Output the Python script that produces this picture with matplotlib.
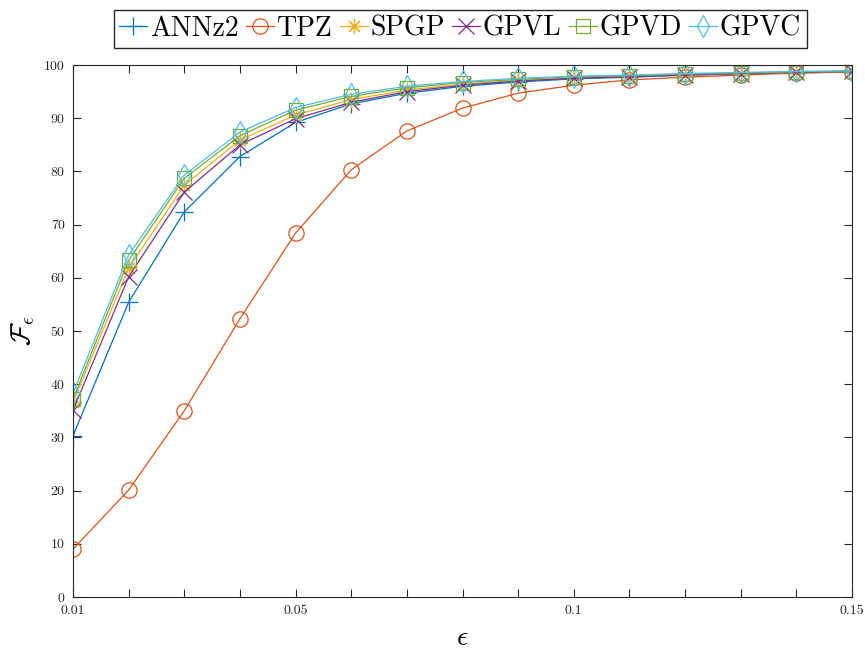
import numpy as np
import matplotlib
matplotlib.use('Agg')
import matplotlib.pyplot as plt

plt.rcParams['font.family'] = ['cmr10', 'DejaVu Serif']
plt.rcParams['mathtext.fontset'] = 'cm'
plt.rcParams['axes.unicode_minus'] = False

# Tolerance values
eps = [0.01, 0.02, 0.03, 0.04, 0.05, 0.06, 0.07, 0.08, 0.09, 0.10, 0.11, 0.12, 0.13, 0.14, 0.15]

# Fraction of objects within tolerance for each method
annz2 = [30.3, 55.4, 72.4, 82.8, 89.2, 92.7, 94.7, 96.0, 96.8, 97.4, 97.7, 98.1, 98.3, 98.5, 98.7]
tpz = [9.0, 20.1, 35.0, 52.3, 68.4, 80.3, 87.6, 91.9, 94.7, 96.2, 97.2, 97.7, 98.1, 98.5, 98.7]
spgp = [36.6, 61.8, 77.4, 85.9, 90.6, 93.5, 95.3, 96.4, 97.1, 97.6, 97.9, 98.2, 98.4, 98.6, 98.8]
gpvl = [35.1, 60.2, 76.1, 85.0, 89.9, 93.0, 95.0, 96.2, 97.0, 97.5, 97.8, 98.1, 98.4, 98.6, 98.8]
gpvd = [37.2, 63.3, 78.7, 86.7, 91.5, 94.1, 95.7, 96.7, 97.3, 97.8, 98.0, 98.3, 98.5, 98.7, 98.9]
gpvc = [38.3, 64.3, 79.3, 87.4, 92.0, 94.5, 96.0, 96.9, 97.5, 97.9, 98.1, 98.4, 98.6, 98.8, 98.9]

names = ['ANNz2', 'TPZ', 'SPGP', 'GPVL', 'GPVD', 'GPVC']
series = [annz2, tpz, spgp, gpvl, gpvd, gpvc]
# MATLAB-style asterisk: 8 rays
markers = ['+', 'o', (8, 2, 0), 'x', 's', 'd']
msizes = [13, 11, 11, 11, 10, 11]
colors = ['#0072BD', '#D95319', '#EDB120', '#7E2F8E', '#77AC30', '#4DBEEE']

fig = plt.figure(figsize=(8.65, 6.49), dpi=100)
ax = fig.add_axes([73 / 865, 1 - 597 / 649, (852 - 73) / 865, (597 - 65) / 649])

for name, vals, m, ms, c in zip(names, series, markers, msizes, colors):
    ax.plot(eps, vals, marker=m, markersize=ms, color=c, linewidth=0.9,
            markerfacecolor='none', markeredgewidth=0.9, label=name)

ax.set_xlim(0.01, 0.15)
ax.set_ylim(0, 100)
ax.set_xticks(eps)
ax.set_xticklabels(['0.01', '', '', '', '0.05', '', '', '', '', '0.1', '', '', '', '', '0.15'])
ax.set_yticks(np.arange(0, 101, 10))
ax.set_yticklabels([str(v) for v in range(0, 101, 10)])
ax.tick_params(direction='in', top=True, right=True, length=6, width=0.8,
               labelsize=10, colors='#262626', pad=6)
for s in ax.spines.values():
    s.set_color('#262626')
    s.set_linewidth(0.8)

ax.set_xlabel(r'$\epsilon$', fontsize=20, labelpad=5)
ax.set_ylabel(r'$\mathcal{F}_\epsilon$', fontsize=20, labelpad=5)

fig.legend(loc='upper center', bbox_to_anchor=(0.532, 0.993), ncol=6,
           fontsize=20, handlelength=1.0, handletextpad=0.1, columnspacing=0.27,
           borderpad=0.2, borderaxespad=0.2, fancybox=False, edgecolor='#262626',
           framealpha=1)

fig.savefig('out.png', dpi=100)
